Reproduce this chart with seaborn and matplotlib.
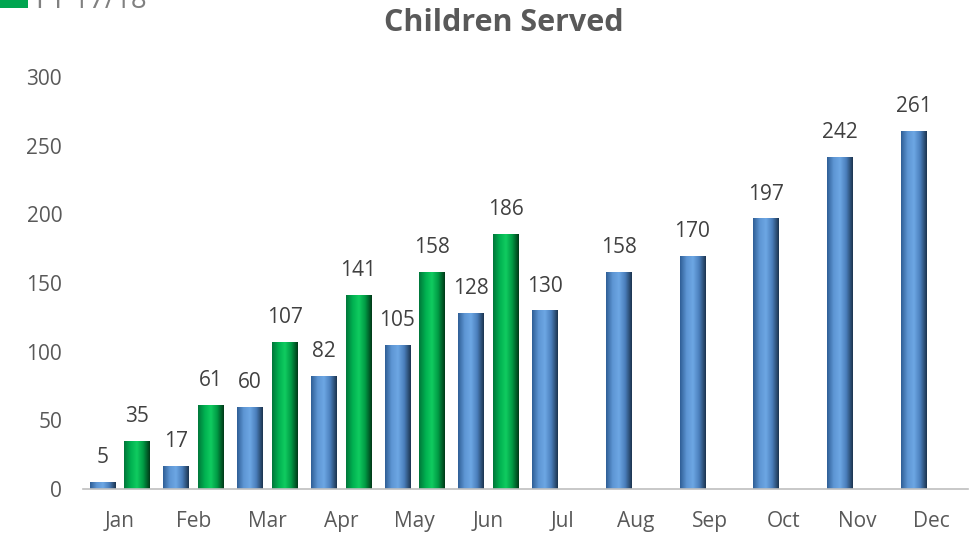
import numpy as np
import pandas as pd
import matplotlib
matplotlib.use("Agg")
import matplotlib.pyplot as plt
import seaborn as sns
from matplotlib.colors import LinearSegmentedColormap
from matplotlib.patches import Rectangle

months = ["Jan", "Feb", "Mar", "Apr", "May", "Jun", "Jul", "Aug", "Sep", "Oct", "Nov", "Dec"]
fy_current = [5, 17, 60, 82, 105, 128, 130, 158, 170, 197, 242, 261]
fy_prior = [35, 61, 107, 141, 158, 186, np.nan, np.nan, np.nan, np.nan, np.nan, np.nan]
series_names = ["FY 18/19", "FY 17/18"]
title = "Children Served"

df = pd.DataFrame({
    "Month": months * 2,
    "Children": fy_current + fy_prior,
    "Series": [series_names[0]] * 12 + [series_names[1]] * 12,
})

sns.set_theme(style="white")
plt.rcParams["font.family"] = ["Open Sans", "DejaVu Sans"]

fig = plt.figure(figsize=(9.7, 5.35), dpi=100)
ax = fig.add_axes([83 / 970, 46 / 535, 885 / 970, 412 / 535])

blue = "#4A7EBB"
green = "#00A550"
sns.barplot(data=df, x="Month", y="Children", hue="Series", order=months,
            hue_order=series_names, palette=[blue, green], width=0.944, gap=0.26,
            ax=ax, legend=False, saturation=1)

ax.set_ylim(0, 300)
ax.set_xlim(-0.5, 11.5)
ax.set_yticks([0, 50, 100, 150, 200, 250, 300])
ax.set_xlabel("")
ax.set_ylabel("")
for s in ["top", "right", "left"]:
    ax.spines[s].set_visible(False)
ax.spines["bottom"].set_color("#BFBFBF")
ax.spines["bottom"].set_linewidth(1.2)
ax.tick_params(axis="y", length=0, labelsize=15, labelcolor="#595959", pad=15)
ax.tick_params(axis="x", which="major", length=0, labelsize=15, labelcolor="#595959", pad=16)
ax.set_xticks(np.arange(-0.5, 12, 1), minor=True)
ax.tick_params(axis="x", which="minor", length=7, color="#BFBFBF", width=1.2, direction="out")

# gradient shading for bars
cmap_blue = LinearSegmentedColormap.from_list("b", ["#2F5F96", "#5D95D3", "#6DA7E4", "#4A7EBB", "#1C3550"])
cmap_green = LinearSegmentedColormap.from_list("g", ["#00773A", "#00B050", "#10CC60", "#009944", "#003A18"])
grad = np.linspace(0, 1, 64).reshape(1, -1)
for container, cmap in zip(ax.containers, [cmap_blue, cmap_green]):
    for p in container.patches:
        h = p.get_height()
        if not np.isfinite(h) or h <= 0:
            continue
        x0, w = p.get_x(), p.get_width()
        im = ax.imshow(grad, cmap=cmap, aspect="auto", extent=[x0, x0 + w, 0, h],
                       zorder=p.get_zorder() + 0.1)
        im.set_clip_path(p)
        p.set_edgecolor("none")
    labels = [f"{v:.0f}" if np.isfinite(v) else "" for v in container.datavalues]
    ax.bar_label(container, labels=labels, padding=10, fontsize=15, color="#404040")
ax.set_xlim(-0.5, 11.5)
ax.set_ylim(0, 300)

fig.text(504 / 970, 1 - 23 / 535, title, ha="center", va="center",
         fontsize=22, fontweight="bold", color="#595959")

# partial legend at the top-left edge
fig.patches.append(Rectangle((0, 1 - 8 / 535), 28 / 970, 16 / 535, transform=fig.transFigure,
                             facecolor=green, edgecolor="none"))
fig.text(36 / 970, 1 - 8 / 535, series_names[1], ha="left", va="baseline",
         fontsize=20, color="#808080")

fig.savefig("out.png", dpi=100)
